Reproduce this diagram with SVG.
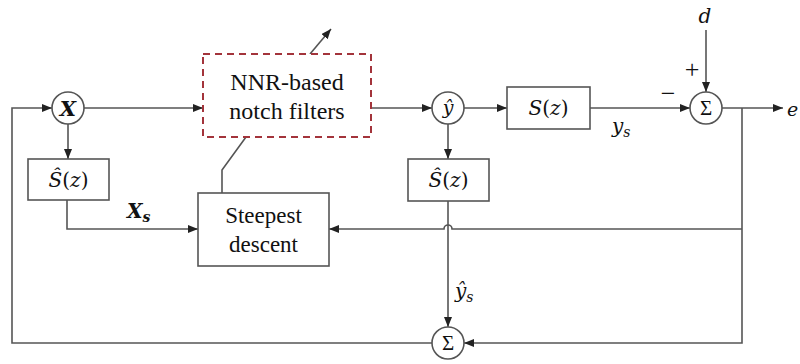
<svg xmlns="http://www.w3.org/2000/svg" width="800" height="364" viewBox="0 0 800 364">
<defs>
<marker id="ah" viewBox="0 0 10 8" refX="10" refY="4" markerWidth="10" markerHeight="8" markerUnits="userSpaceOnUse" orient="auto">
<path d="M0,0 L10,4 L0,8 Z" fill="#222"/>
</marker>
<style>
.ln{fill:none;stroke:#555;stroke-width:1.6}
.bx{fill:#fff;stroke:#555;stroke-width:1.6}
.dash{fill:#fff;stroke:#a3343b;stroke-width:2;stroke-dasharray:7,5}
.t{font-family:"Liberation Serif","Times New Roman",serif;fill:#111;text-anchor:middle}
.m{font-family:"DejaVu Serif","Liberation Serif",serif;fill:#111;font-style:italic}
.up{font-style:normal}
</style>
</defs>
<rect width="800" height="364" fill="#fff"/>
<g id="connectors">
<path class="ln" d="M84,108 H203" marker-end="url(#ah)"/>
<path class="ln" d="M371,108 H432" marker-end="url(#ah)"/>
<path class="ln" d="M464,108 H507" marker-end="url(#ah)"/>
<path class="ln" d="M590,108 H690" marker-end="url(#ah)"/>
<path class="ln" d="M706,30 V92" marker-end="url(#ah)"/>
<path class="ln" d="M722,108 H783" marker-end="url(#ah)"/>
<path class="ln" d="M68,124 V159" marker-end="url(#ah)"/>
<path class="ln" d="M67,200 V229 H198" marker-end="url(#ah)"/>
<path class="ln" d="M448,124 V159" marker-end="url(#ah)"/>
<path class="ln" d="M448,201 V327" marker-end="url(#ah)"/>
<path class="ln" d="M742,108 V343 H464" marker-end="url(#ah)"/>
<path class="ln" d="M742,229 H452 A4,4 0 0 0 444,229 H329" marker-end="url(#ah)"/>
<path class="ln" d="M432,343 H12 V108 H52" marker-end="url(#ah)"/>
<path class="ln" d="M222,193 V170 L246,137"/>
<path class="ln" d="M310,54 L331,29" marker-end="url(#ah)"/>
</g>
<g id="sumX">
<circle class="bx" cx="68" cy="108" r="16"/>
<text class="m" x="68" y="116" text-anchor="middle" font-size="21" font-weight="bold">X</text>
</g>
<g id="shat1">
<rect class="bx" x="28" y="159" width="81" height="41"/>
<text class="m" x="68.5" y="187" text-anchor="middle" font-size="20">Ŝ<tspan class="up">(</tspan>z<tspan class="up">)</tspan></text>
</g>
<g id="nnr">
<rect class="dash" x="203" y="54" width="168" height="83"/>
<text class="t" x="287" y="90" font-size="24">NNR-based</text>
<text class="t" x="287" y="119" font-size="24">notch filters</text>
</g>
<g id="steepest">
<rect class="bx" x="198" y="193" width="131" height="73"/>
<text class="t" x="263.5" y="223" font-size="23">Steepest</text>
<text class="t" x="263.5" y="252" font-size="23">descent</text>
</g>
<g id="yhat">
<circle class="bx" cx="448" cy="108" r="16"/>
<text class="m" x="448" y="114" text-anchor="middle" font-size="19">ŷ</text>
</g>
<g id="sz">
<rect class="bx" x="507" y="87" width="83" height="42"/>
<text class="m" x="548.5" y="115" text-anchor="middle" font-size="20">S<tspan class="up">(</tspan>z<tspan class="up">)</tspan></text>
</g>
<g id="shat2">
<rect class="bx" x="408" y="159" width="81" height="42"/>
<text class="m" x="448.5" y="187" text-anchor="middle" font-size="20">Ŝ<tspan class="up">(</tspan>z<tspan class="up">)</tspan></text>
</g>
<g id="sumE">
<circle class="bx" cx="706" cy="108" r="16"/>
<text class="t" x="706" y="115" font-size="21">Σ</text>
</g>
<g id="sumB">
<circle class="bx" cx="448" cy="343" r="16"/>
<text class="t" x="448" y="350" font-size="21">Σ</text>
</g>
<g id="labels">
<text class="m" x="705" y="23" text-anchor="middle" font-size="20">d</text>
<text class="t" x="692" y="78" font-size="26">+</text>
<text class="t" x="668" y="102" font-size="26">−</text>
<text class="m" x="612" y="133" font-size="20">y<tspan font-size="14" dy="4">s</tspan></text>
<text class="m" x="455" y="298" font-size="20">ŷ<tspan font-size="14" dy="4">s</tspan></text>
<text class="m" x="127" y="218" font-size="20" font-weight="bold">X<tspan font-size="14" dy="4">s</tspan></text>
<text class="m" x="787" y="116" font-size="19">e</text>
</g>
</svg>
